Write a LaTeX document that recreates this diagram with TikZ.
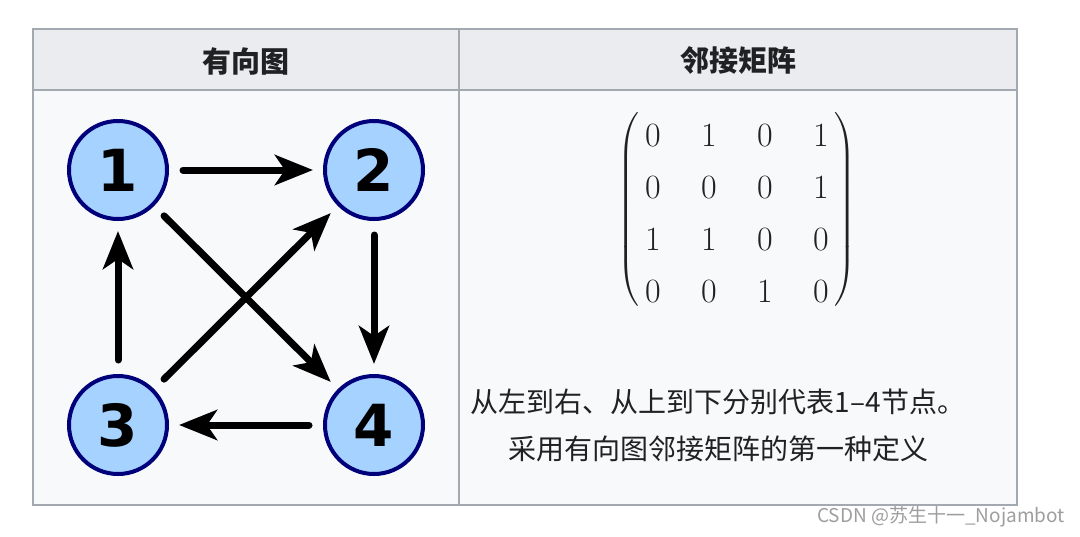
\documentclass[tikz,border=0pt]{standalone}
\usepackage{amsmath}
\usepackage{fontspec}
\newfontfamily\cjk{Noto Sans CJK SC}
\newfontfamily\digitsans{DejaVu Sans}
\usetikzlibrary{arrows.meta,matrix}
\definecolor{hdrbg}{HTML}{EAECF0}
\definecolor{bodybg}{HTML}{F8F9FA}
\definecolor{gridc}{HTML}{A2A9B1}
\definecolor{txt}{HTML}{202122}
\definecolor{vfill}{HTML}{A6D2FF}
\definecolor{vdraw}{HTML}{00007A}
\definecolor{wm}{HTML}{9E9E9E}
\newcommand{\matfont}{\fontsize{34}{40}\selectfont}
\newcommand{\delimfont}{\fontsize{44}{50}\selectfont}
\tikzset{
  vertex/.style={circle, draw=vdraw, fill=vfill, line width=4pt, minimum size=98pt, inner sep=0pt,
    font=\digitsans\bfseries\fontsize{58}{58}\selectfont, text=black},
  edge/.style={line width=7pt, line cap=round, -{Stealth[length=38pt,width=30pt,inset=10pt]},
    shorten <=14pt, shorten >=10pt},
  header/.style={font=\cjk\bfseries\fontsize{29}{29}\selectfont, text=txt},
  bodytext/.style={font=\cjk\fontsize{28}{28}\selectfont, text=txt},
  grid/.style={draw=gridc, line width=2pt},
  every left delimiter/.style={font=\delimfont, text=txt, xshift=2pt},
  every right delimiter/.style={font=\delimfont, text=txt, xshift=-2pt}
}
\begin{document}
\begin{tikzpicture}[x=1pt,y=-1pt]
\useasboundingbox (0,0) rectangle (1080,536);
\fill[white] (0,0) rectangle (1080,536);
\fill[hdrbg] (33,29) rectangle (1017,90);
\fill[bodybg] (33,90) rectangle (1017,505);
\draw[grid] (33,29) rectangle (1017,505);
\draw[grid] (33,90) -- (1017,90);
\draw[grid] (459,29) -- (459,505);

\node[header] (h1) at (246,61) {有向图};
\node[header] (h2) at (738,61) {邻接矩阵};

\node[vertex] (v1) at (118,170) {1};
\node[vertex] (v2) at (374,170) {2};
\node[vertex] (v3) at (118,425) {3};
\node[vertex] (v4) at (374,425) {4};

\draw[edge] (v1) -- (v2);
\draw[edge] (v2) -- (v4);
\draw[edge] (v1) -- (v4);
\draw[edge] (v3) -- (v2);
\draw[edge] (v3) -- (v1);
\draw[edge] (v4) -- (v3);

\matrix (adj) at (737,213) [matrix of nodes,
  nodes={font=\matfont, text=txt, text height=23pt, text depth=0pt, inner sep=0pt, minimum width=20pt, anchor=center},
  column sep=36pt, row sep=29pt, inner sep=4pt,
  left delimiter=(, right delimiter=)] {
  0 & 1 & 0 & 1\\
  0 & 0 & 0 & 1\\
  1 & 1 & 0 & 0\\
  0 & 0 & 1 & 0\\
};

\node[bodytext] (l1) at (718,402) {从左到右、从上到下分别代表1–4节点。};
\node[bodytext] (l2) at (718,449) {采用有向图邻接矩阵的第一种定义};

\node[font=\cjk\fontsize{19}{19}\selectfont, text=wm] (wmk) at (941,517) {CSDN @苏生十一\_Nojambot};
\end{tikzpicture}
\end{document}
